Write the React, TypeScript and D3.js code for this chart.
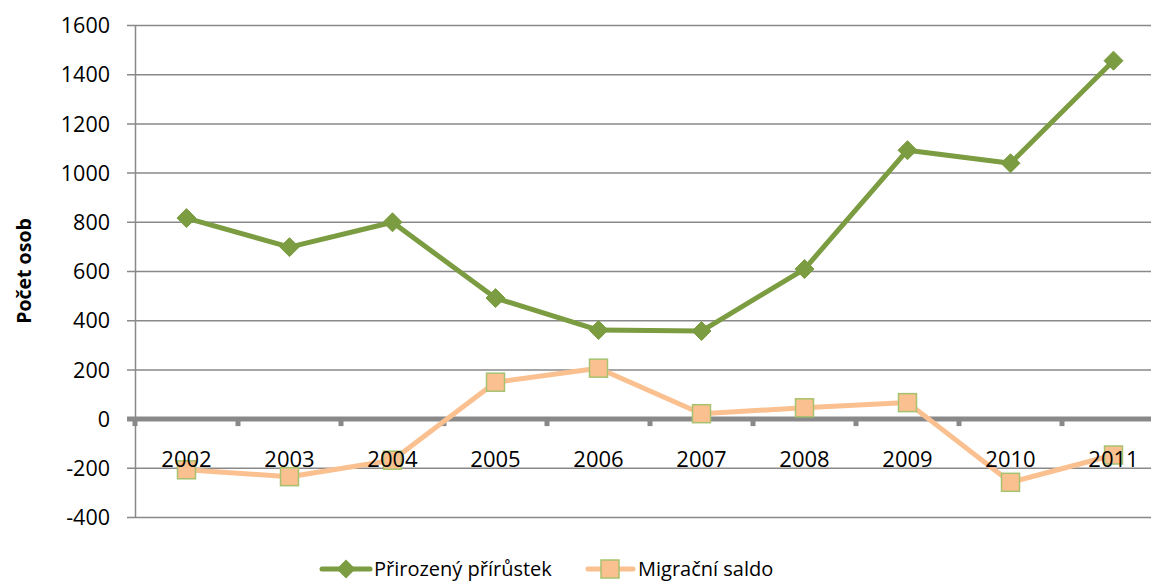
import React from "react";
import * as d3 from "d3";

const years = ["2002","2003","2004","2005","2006","2007","2008","2009","2010","2011"];
const prirozeny = [817, 699, 800, 492, 362, 358, 610, 1093, 1040, 1457];
const migracni = [-206, -234, -167, 150, 207, 22, 46, 67, -257, -146];
const yTicks = [-400, -200, 0, 200, 400, 600, 800, 1000, 1200, 1400, 1600];
const seriesNames = ["Přirozený přírůstek", "Migrační saldo"];

const W = 1151, H = 581;
const FONT = "'Open Sans', 'Noto Sans', sans-serif";

export default function App() {
  const x = d3.scaleBand<string>().domain(years).range([135, 1165]);
  const y = d3.scaleLinear().domain([-400, 1600]).range([517.5, 25.5]);
  const cx = (d: string) => (x(d) as number) + x.bandwidth() / 2;
  const line = d3.line<number>().x((_, i) => cx(years[i])).y((v) => y(v));
  const grid = "#898989";
  const green = "#7B9C41";
  const orange = "#FAC090";
  const markStroke = "#A6C26F";
  const diamond = (px: number, py: number, r: number) =>
    `M${px},${py - r}L${px + r},${py}L${px},${py + r}L${px - r},${py}Z`;
  return (
    <svg width={W} height={H} style={{ position: "absolute", left: 0, top: 0, background: "#fff" }}>
      {yTicks.map((t) => (
        <g key={t}>
          {t !== 0 && (
            <line x1={127} x2={W} y1={y(t)} y2={y(t)} stroke={grid} strokeWidth={1.5} />
          )}
          <text x={110} y={y(t)} dy="0.36em" textAnchor="end" fontFamily={FONT} fontSize={21.5} fill="#000">
            {t}
          </text>
        </g>
      ))}
      <line x1={135.5} x2={135.5} y1={25} y2={518} stroke={grid} strokeWidth={1.5} />
      <line x1={127} x2={W} y1={y(0)} y2={y(0)} stroke={grid} strokeWidth={5} />
      {years.map((yr) => (
        <line key={"t" + yr} x1={x(yr) as number} x2={x(yr) as number} y1={y(0)} y2={y(0) + 7} stroke={grid} strokeWidth={5} />
      ))}
      <line x1={1165} x2={1165} y1={y(0)} y2={y(0) + 7} stroke={grid} strokeWidth={5} />
      <text transform="translate(31,271) rotate(-90)" textAnchor="middle" fontFamily={FONT} fontSize={19.5} fontWeight="bold" fill="#000">
        Počet osob
      </text>
      <path d={line(prirozeny) || ""} fill="none" stroke={green} strokeWidth={5} strokeLinejoin="round" />
      {prirozeny.map((v, i) => (
        <path key={"g" + i} d={diamond(cx(years[i]), y(v), 9.5)} fill={green} stroke={green} strokeWidth={1} />
      ))}
      <path d={line(migracni) || ""} fill="none" stroke={orange} strokeWidth={5} strokeLinejoin="round" />
      {migracni.map((v, i) => (
        <rect key={"o" + i} x={cx(years[i]) - 9} y={y(v) - 9} width={18} height={18} fill={orange} stroke={markStroke} strokeWidth={1.5} />
      ))}
      {years.map((yr) => (
        <text key={"l" + yr} x={cx(yr)} y={467} textAnchor="middle" fontFamily={FONT} fontSize={22} fill="#000">
          {yr}
        </text>
      ))}
      <g>
        <line x1={322} x2={370} y1={569} y2={569} stroke={green} strokeWidth={5} strokeLinecap="round" />
        <path d={diamond(346, 569, 9.5)} fill={green} />
        <text x={374} y={576} fontFamily={FONT} fontSize={20} fill="#000">{seriesNames[0]}</text>
        <line x1={588} x2={633} y1={569} y2={569} stroke={orange} strokeWidth={5} strokeLinecap="round" />
        <rect x={601} y={560} width={18} height={18} fill={orange} stroke={markStroke} strokeWidth={1.5} />
        <text x={638} y={576} fontFamily={FONT} fontSize={20} fill="#000">{seriesNames[1]}</text>
      </g>
    </svg>
  );
}
